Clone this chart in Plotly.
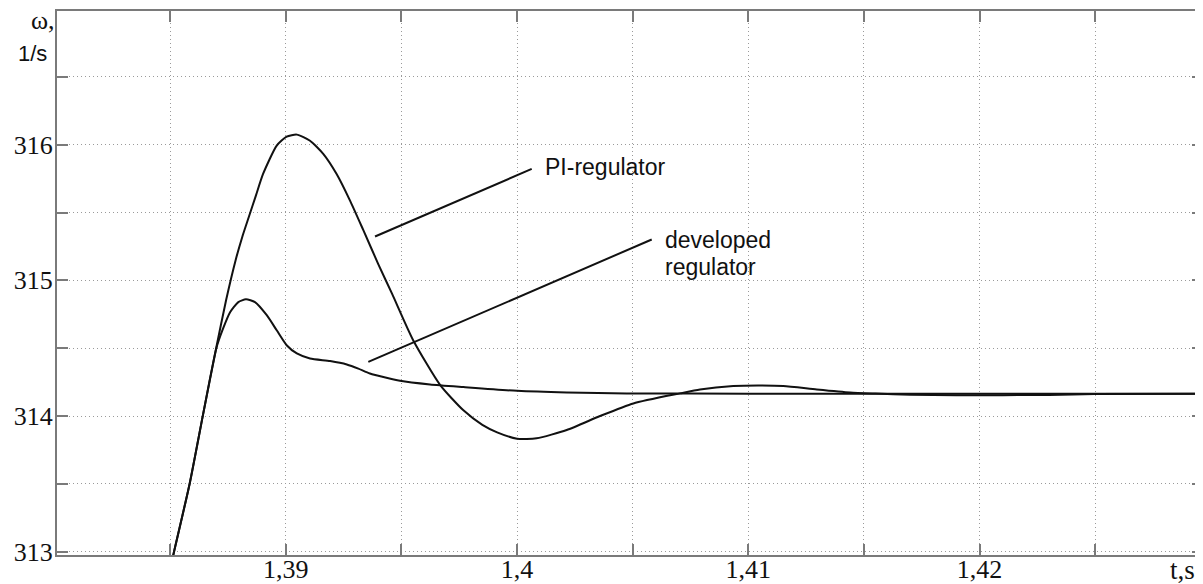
import plotly.graph_objects as go

# ---- data ----
t_pi = [1.38500, 1.38517, 1.38585, 1.38642, 1.38700, 1.38742, 1.38783, 1.38812,
        1.38840, 1.38872, 1.38902, 1.38961, 1.39004, 1.39048, 1.39105, 1.39163,
        1.39220, 1.39278, 1.39336, 1.39400, 1.39460, 1.39551, 1.39668, 1.39767,
        1.39850, 1.39914, 1.40000, 1.40085, 1.40215, 1.40359, 1.40503, 1.40705,
        1.40791, 1.40935, 1.41050, 1.41151, 1.41296, 1.41440, 1.41550, 1.41700,
        1.41900, 1.42100, 1.42300, 1.42500, 1.43000]
w_pi = [312.87, 313.000, 313.505, 314.007, 314.507, 314.853, 315.147, 315.320,
        315.465, 315.630, 315.784, 315.993, 316.059, 316.074, 316.029, 315.931,
        315.784, 315.588, 315.368, 315.120, 314.900, 314.559, 314.228, 314.044,
        313.935, 313.880, 313.833, 313.836, 313.897, 314.000, 314.093, 314.167,
        314.196, 314.221, 314.225, 314.221, 314.196, 314.174, 314.166, 314.157,
        314.154, 314.154, 314.156, 314.162, 314.165]

t_dev = [1.38500, 1.38517, 1.38585, 1.38642, 1.38700, 1.38728, 1.38760, 1.38795,
         1.38828, 1.38867, 1.38918, 1.38961, 1.39004, 1.39048, 1.39105, 1.39192,
         1.39264, 1.39314, 1.39364, 1.39494, 1.39624, 1.39768, 1.40000, 1.40215,
         1.40474, 1.41000, 1.42000, 1.43000]
w_dev = [312.87, 313.000, 313.505, 314.007, 314.500, 314.640, 314.767, 314.840,
         314.860, 314.840, 314.743, 314.632, 314.522, 314.461, 314.424, 314.405,
         314.380, 314.350, 314.314, 314.260, 314.233, 314.214, 314.186, 314.174,
         314.167, 314.165, 314.165, 314.165]

x_tickvals = [1.385, 1.390, 1.395, 1.400, 1.405, 1.410, 1.415, 1.420, 1.425]
x_ticktext = ["", "1,39", "", "1,4", "", "1,41", "", "1,42", ""]
y_tickvals = [313.0, 313.5, 314.0, 314.5, 315.0, 315.5, 316.0, 316.5]
y_ticktext = ["313", "", "314", "", "315", "", "316", ""]

x_range = [1.38011, 1.42966]
y_range = [312.976, 316.985]

# leader lines (data coordinates) and label anchors
pi_leader = [(1.393861, 315.3235), (1.400636, 315.821)]
dev_leader = [(1.393571, 314.399), (1.405824, 315.301)]
pi_label = (1.40112, 315.838, "PI-regulator")
dev_label1 = (1.40632, 315.296, "developed")
dev_label2 = (1.40632, 315.101, "regulator")

LINE = "#111111"
AXIS = "#7a7a7a"
GRID = "#9a9a9a"
SERIF = "Liberation Serif"
SANS = "Liberation Sans"

fig = go.Figure()
fig.add_trace(go.Scatter(x=t_pi, y=w_pi, mode="lines", name="PI-regulator",
                         line=dict(color=LINE, width=2, shape="spline", smoothing=0.6),
                         showlegend=False))
fig.add_trace(go.Scatter(x=t_dev, y=w_dev, mode="lines", name="developed regulator",
                         line=dict(color=LINE, width=2, shape="spline", smoothing=0.6),
                         showlegend=False))

for (x0, y0), (x1, y1) in [pi_leader, dev_leader]:
    fig.add_shape(type="line", xref="x", yref="y", x0=x0, y0=y0, x1=x1, y1=y1,
                  line=dict(color=LINE, width=2))

for (x, y, txt) in [pi_label, dev_label1, dev_label2]:
    fig.add_annotation(x=x, y=y, xref="x", yref="y", text=txt, showarrow=False,
                       xanchor="left", yanchor="middle",
                       font=dict(family=SANS, size=23, color="#111111"))

# axis titles
fig.add_annotation(x=0, y=1, xref="paper", yref="paper", text="ω,", showarrow=False,
                   xanchor="right", yanchor="middle", xshift=0, yshift=-9,
                   font=dict(family=SERIF, size=26, color="#111111"))
fig.add_annotation(x=0, y=1, xref="paper", yref="paper", text="1/s", showarrow=False,
                   xanchor="right", yanchor="middle", xshift=-8, yshift=-42,
                   font=dict(family=SANS, size=22, color="#111111"))
fig.add_annotation(x=1, y=0, xref="paper", yref="paper", text="t,s", showarrow=False,
                   xanchor="right", yanchor="middle", xshift=-6, yshift=-15,
                   font=dict(family=SERIF, size=27, color="#111111"))

fig.update_xaxes(range=x_range, tickmode="array", tickvals=x_tickvals, ticktext=x_ticktext,
                 showline=True, linecolor=AXIS, linewidth=2, mirror="ticks",
                 ticks="inside", ticklen=11, tickwidth=1.5, tickcolor=AXIS,
                 showgrid=True, gridcolor=GRID, gridwidth=1, griddash="1px,3px",
                 zeroline=False, automargin=False, ticklabelstandoff=-10,
                 tickfont=dict(family=SERIF, size=26, color="#111111"))
fig.update_yaxes(range=y_range, tickmode="array", tickvals=y_tickvals, ticktext=y_ticktext,
                 showline=True, linecolor=AXIS, linewidth=2, mirror="ticks",
                 ticks="inside", ticklen=11, tickwidth=1.5, tickcolor=AXIS,
                 showgrid=True, gridcolor=GRID, gridwidth=1, griddash="1px,3px",
                 zeroline=False, automargin=False, ticklabelstandoff=-3,
                 tickfont=dict(family=SERIF, size=26, color="#111111"))

# the page body has an 8px margin, so the figure is sized to end at the window edge
fig.update_layout(width=1195, height=576, margin=dict(l=49, r=0, t=3, b=29),
                  paper_bgcolor="white", plot_bgcolor="white", showlegend=False)

fig.write_html("out.html")
